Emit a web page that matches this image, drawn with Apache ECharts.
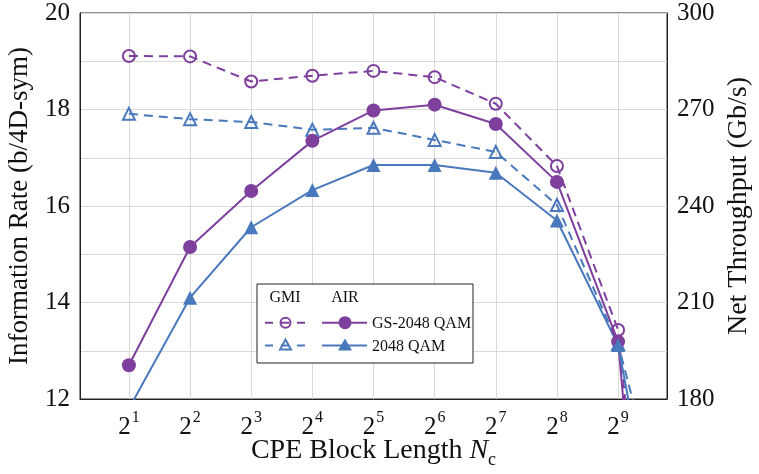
<!DOCTYPE html>
<html>
<head>
<meta charset="utf-8">
<script src="https://cdn.jsdelivr.net/npm/echarts@6/dist/echarts.min.js"></script>
<style>
html,body{margin:0;padding:0;background:#fff;}
#chart{width:759px;height:474px;}
</style>
</head>
<body>
<div id="chart"></div>
<script>
// CPE block length exponents (N_c = 2^k); the last point lies beyond the plotted range
const blockExp = [1, 2, 3, 4, 5, 6, 7, 8, 9, 10];
const tickExp = [1, 2, 3, 4, 5, 6, 7, 8, 9];
// Information rate (b/4D-sym)
const gmiGS2048 = [19.11, 19.10, 18.58, 18.70, 18.80, 18.67, 18.12, 16.83, 13.43, 1.0];
const airGS2048 = [12.70, 15.15, 16.31, 17.35, 17.98, 18.10, 17.70, 16.50, 13.19, -1.0];
const gmi2048   = [17.91, 17.80, 17.74, 17.58, 17.62, 17.37, 17.12, 16.02, 13.14, 8.3];
const air2048   = [11.80, 14.10, 15.56, 16.33, 16.85, 16.85, 16.69, 15.70, 13.12, 6.4];
// axis ticks
const leftTicks = {min: 12, max: 20, step: 1};
const rightTicks = {min: 180, max: 300, step: 30};

const PURPLE = '#7E3F9D';
const BLUE = '#4A78BC';
const FONT = 'Liberation Serif';

const pairs = arr => blockExp.map((x, i) => [x, arr[i]]);

const chart = echarts.init(document.getElementById('chart'), null, {renderer: 'canvas'});

function lineSeries(name, data, color, dashed, symbol, filled, size) {
  return {
    name: name,
    type: 'line',
    data: pairs(data),
    clip: true,
    symbol: symbol,
    symbolSize: size,
    yAxisIndex: 0,
    lineStyle: {color: color, width: 2, type: dashed ? [9, 6] : 'solid'},
    itemStyle: {color: filled ? color : 'rgba(0,0,0,0)', borderColor: color, borderWidth: filled ? 0 : 2},
    emphasis: {disabled: true},
    animation: false
  };
}

const LX = 257, LY = 284, LW = 216, LH = 79;
const r1 = 322.7, r2 = 345.5;
const legText = (x, y, t, align) => ({
  type: 'text', z: 101,
  style: {x: x, y: y, text: t, fontFamily: FONT, fontSize: 16, fill: '#111', align: align, verticalAlign: 'middle'}
});

const option = {
  backgroundColor: '#fff',
  animation: false,
  grid: {left: 80, right: 92, top: 13, bottom: 75, containLabel: false, outerBoundsMode: 'none',
    show: true, borderColor: '#222', borderWidth: 1, backgroundColor: 'transparent'},
  xAxis: {
    type: 'value', min: 0.2, max: 9.8,
    name: '{a|CPE Block Length }{i|N}{sub|c}',
    nameLocation: 'middle', nameGap: 38, nameMoveOverlap: false,
    nameTextStyle: {
      verticalAlign: 'top',
      rich: {
        a: {fontFamily: FONT, fontSize: 28, color: '#111'},
        i: {fontFamily: FONT, fontSize: 28, fontStyle: 'italic', color: '#111'},
        sub: {fontFamily: FONT, fontSize: 18, color: '#111', verticalAlign: 'bottom', padding: [0, 0, -4, 0]}
      }
    },
    axisLine: {show: true, lineStyle: {color: '#222', width: 1}},
    axisTick: {show: false, customValues: tickExp},
    axisLabel: {
      customValues: tickExp,
      margin: 11,
      formatter: v => '{b|2}{s|' + v + '}',
      rich: {
        b: {fontFamily: FONT, fontSize: 25, color: '#111', verticalAlign: 'bottom', padding: [5, 0, 0, 0]},
        s: {fontFamily: FONT, fontSize: 16, color: '#111', verticalAlign: 'top', padding: [0, 0, 0, 1]}
      }
    },
    splitLine: {show: true, lineStyle: {color: '#d9d9d9', width: 1}}
  },
  yAxis: [{
    type: 'value', min: leftTicks.min, max: leftTicks.max, interval: leftTicks.step,
    position: 'left',
    name: 'Information Rate (b/4D-sym)',
    nameLocation: 'middle', nameGap: 47, nameMoveOverlap: false,
    nameTextStyle: {fontFamily: FONT, fontSize: 27, color: '#111'},
    axisLine: {show: true, lineStyle: {color: '#222', width: 1}},
    axisTick: {show: false},
    axisLabel: {fontFamily: FONT, fontSize: 25, color: '#111', margin: 10,
      formatter: v => (v % 2 === 0 ? String(v) : '')},
    splitLine: {show: true, lineStyle: {color: '#d9d9d9', width: 1}}
  }, {
    type: 'value', min: rightTicks.min, max: rightTicks.max, interval: rightTicks.step,
    position: 'right',
    name: 'Net Throughput (Gb/s)',
    nameLocation: 'middle', nameGap: 58, nameMoveOverlap: false,
    nameTextStyle: {fontFamily: FONT, fontSize: 28, color: '#111'},
    axisLine: {show: true, lineStyle: {color: '#222', width: 1}},
    axisTick: {show: false},
    axisLabel: {fontFamily: FONT, fontSize: 25, color: '#111', margin: 10},
    splitLine: {show: false}
  }],
  series: [
    lineSeries('GMI GS-2048 QAM', gmiGS2048, PURPLE, true, 'circle', false, 12),
    lineSeries('GMI 2048 QAM', gmi2048, BLUE, true, 'triangle', false, 12),
    lineSeries('AIR GS-2048 QAM', airGS2048, PURPLE, false, 'circle', true, 14),
    lineSeries('AIR 2048 QAM', air2048, BLUE, false, 'triangle', true, 14)
  ],
  graphic: [
    {type: 'rect', z: 100, shape: {x: LX, y: LY, width: LW, height: LH}, style: {fill: '#fff', stroke: '#222', lineWidth: 1}},
    legText(285, 298, 'GMI', 'center'),
    legText(345, 298, 'AIR', 'center'),
    // row 1
    {type: 'line', z: 101, shape: {x1: 265, y1: r1, x2: 306, y2: r1}, style: {stroke: PURPLE, lineWidth: 2, lineDash: [8, 8]}},
    {type: 'circle', z: 102, shape: {cx: 285.5, cy: r1, r: 5}, style: {fill: 'rgba(0,0,0,0)', stroke: PURPLE, lineWidth: 2}},
    {type: 'line', z: 101, shape: {x1: 322, y1: r1, x2: 367, y2: r1}, style: {stroke: PURPLE, lineWidth: 2}},
    {type: 'circle', z: 102, shape: {cx: 345, cy: r1, r: 6.5}, style: {fill: PURPLE}},
    legText(372, r1 + 1, 'GS-2048 QAM', 'left'),
    // row 2
    {type: 'line', z: 101, shape: {x1: 265, y1: r2, x2: 306, y2: r2}, style: {stroke: BLUE, lineWidth: 2, lineDash: [8, 8]}},
    {type: 'polygon', z: 102, shape: {points: [[285.5, r2 - 6], [280, r2 + 4], [291, r2 + 4]]}, style: {fill: 'rgba(0,0,0,0)', stroke: BLUE, lineWidth: 2}},
    {type: 'line', z: 101, shape: {x1: 322, y1: r2, x2: 367, y2: r2}, style: {stroke: BLUE, lineWidth: 2}},
    {type: 'polygon', z: 102, shape: {points: [[345, r2 - 7], [338, r2 + 5], [352, r2 + 5]]}, style: {fill: BLUE}},
    legText(372, r2 + 1, '2048 QAM', 'left')
  ]
};
chart.setOption(option);
</script>
</body>
</html>
